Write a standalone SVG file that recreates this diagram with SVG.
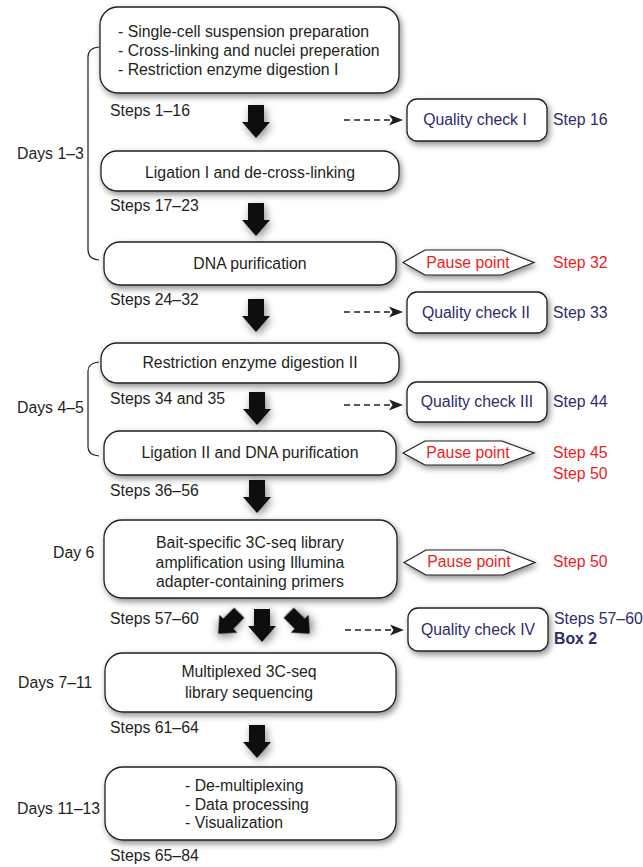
<svg xmlns="http://www.w3.org/2000/svg" xmlns:xlink="http://www.w3.org/1999/xlink" width="643" height="867" viewBox="0 0 643 867">
<style>
text{font-family:"Liberation Sans",Arial,Helvetica,sans-serif;font-size:15.8px;fill:#231f20}
.c{text-anchor:middle}
.navy{fill:#2e2b6b}
.red{fill:#ed1c24}
.bold{font-weight:bold}
.box{fill:#fff;stroke:#231f20;stroke-width:1.3;filter:url(#sh)}
.hex{fill:#fff;stroke:#231f20;stroke-width:1.2;filter:url(#sh)}
.brk{fill:none;stroke:#231f20;stroke-width:1.2}
.dash{stroke:#231f20;stroke-width:1.4;stroke-dasharray:6 4;fill:none}
.ah{fill:#231f20}
.blk{fill:#111;filter:url(#ash)}
</style>
<defs>
<filter id="sh" x="-20%" y="-30%" width="140%" height="170%">
<feGaussianBlur in="SourceAlpha" stdDeviation="3"/>
<feOffset dx="2" dy="3" result="b"/>
<feComponentTransfer><feFuncA type="linear" slope="0.45"/></feComponentTransfer>
<feMerge><feMergeNode/><feMergeNode in="SourceGraphic"/></feMerge>
</filter>
<filter id="ash" x="-80%" y="-80%" width="260%" height="260%">
<feGaussianBlur in="SourceAlpha" stdDeviation="4.5"/>
<feOffset dx="2" dy="3" result="b"/>
<feComponentTransfer><feFuncA type="linear" slope="0.45"/></feComponentTransfer>
<feMerge><feMergeNode/><feMergeNode in="SourceGraphic"/></feMerge>
</filter>
<path id="arr" d="M-8,-16 h16 v17 h6 l-14,16 l-14,-16 h6 z"/>
</defs>

<g id="connectors">
<use xlink:href="#arr" href="#arr" class="blk" transform="translate(256,121)"/>
<use xlink:href="#arr" href="#arr" class="blk" transform="translate(256,219)"/>
<use xlink:href="#arr" href="#arr" class="blk" transform="translate(256,315)"/>
<use xlink:href="#arr" href="#arr" class="blk" transform="translate(257,408)"/>
<use xlink:href="#arr" href="#arr" class="blk" transform="translate(257,496)"/>
<use xlink:href="#arr" href="#arr" class="blk" transform="translate(229,623) rotate(45) scale(0.9)"/>
<use xlink:href="#arr" href="#arr" class="blk" transform="translate(262,625)"/>
<use xlink:href="#arr" href="#arr" class="blk" transform="translate(299,623) rotate(-45) scale(0.9)"/>
<use xlink:href="#arr" href="#arr" class="blk" transform="translate(257,741)"/>

<path class="dash" d="M344,120 H391"/>
<path class="ah" d="M403,120 L389,114.5 L392.5,120 L389,125.5 z"/>
<path class="dash" d="M344,312 H391"/>
<path class="ah" d="M403,312 L389,306.5 L392.5,312 L389,317.5 z"/>
<path class="dash" d="M344,405 H391"/>
<path class="ah" d="M403,405 L389,399.5 L392.5,405 L389,410.5 z"/>
<path class="dash" d="M345,630 H392"/>
<path class="ah" d="M404,630 L390,624.5 L393.5,630 L390,635.5 z"/>
</g>

<g id="brackets">
<path class="brk" d="M99,47 Q88,48 88,57 V250 Q88,259 99,260"/>
<text x="17" y="159">Days 1–3</text>
<path class="brk" d="M99,362 Q88,363 88,371 V447 Q88,455 99,456"/>
<text x="17" y="413">Days 4–5</text>
<text x="53" y="558">Day 6</text>
<text x="18" y="688">Days 7–11</text>
<text x="17" y="814">Days 11–13</text>
</g>

<g id="n1">
<rect class="box" x="100" y="7" width="299" height="86" rx="18"/>
<text x="118" y="37">- Single-cell suspension preparation</text>
<text x="118" y="56">- Cross-linking and nuclei preperation</text>
<text x="118" y="75">- Restriction enzyme digestion I</text>
<text x="110" y="116">Steps 1–16</text>
</g>
<g id="n2">
<rect class="box" x="101" y="151" width="298" height="40" rx="16"/>
<text class="c" x="250" y="178">Ligation I and de-cross-linking</text>
<text x="110" y="211">Steps 17–23</text>
</g>
<g id="n3">
<rect class="box" x="104" y="242" width="292" height="43" rx="16"/>
<text class="c" x="250" y="269">DNA purification</text>
<text x="110" y="305">Steps 24–32</text>
</g>
<g id="n4">
<rect class="box" x="101" y="343" width="298" height="40" rx="16"/>
<text class="c" x="250" y="368">Restriction enzyme digestion II</text>
<text x="110" y="404">Steps 34 and 35</text>
</g>
<g id="n5">
<rect class="box" x="104" y="431" width="292" height="44" rx="16"/>
<text class="c" x="250" y="458">Ligation II and DNA purification</text>
<text x="110" y="496">Steps 36–56</text>
</g>
<g id="n6">
<rect class="box" x="104" y="520" width="293" height="78" rx="18"/>
<text class="c" x="250" y="548">Bait-specific 3C-seq library</text>
<text class="c" x="250" y="568">amplification using Illumina</text>
<text class="c" x="250" y="587">adapter-containing primers</text>
<text x="110" y="624">Steps 57–60</text>
</g>
<g id="n7">
<rect class="box" x="105" y="653" width="291" height="59" rx="18"/>
<text class="c" x="249" y="677">Multiplexed 3C-seq</text>
<text class="c" x="249" y="698">library sequencing</text>
<text x="110" y="733">Steps 61–64</text>
</g>
<g id="n8">
<rect class="box" x="105" y="767" width="291" height="73" rx="18"/>
<text x="185" y="791">- De-multiplexing</text>
<text x="185" y="810">- Data processing</text>
<text x="185" y="828">- Visualization</text>
<text x="110" y="861">Steps 65–84</text>
</g>

<g id="qc1">
<rect class="box" x="407" y="99" width="140" height="42" rx="10"/>
<text class="c navy" x="475" y="125">Quality check I</text>
<text class="navy" x="553" y="125">Step 16</text>
</g>
<g id="qc2">
<rect class="box" x="407" y="292" width="140" height="41" rx="10"/>
<text class="c navy" x="476" y="318">Quality check II</text>
<text class="navy" x="553" y="318">Step 33</text>
</g>
<g id="qc3">
<rect class="box" x="407" y="382" width="140" height="40" rx="10"/>
<text class="c navy" x="477" y="407">Quality check III</text>
<text class="navy" x="553" y="407">Step 44</text>
</g>
<g id="qc4">
<rect class="box" x="408" y="608" width="140" height="43" rx="10"/>
<text class="c navy" x="478" y="635">Quality check IV</text>
<text class="navy" x="554" y="624">Steps 57–60</text>
<text class="navy bold" x="554" y="644">Box 2</text>
</g>

<g id="pp1">
<path class="hex" d="M403,262.5 L425,250 H502 L534,262.5 L502,275 H425 z"/>
<text class="c red" x="468" y="268">Pause point</text>
<text class="red" x="553" y="268">Step 32</text>
</g>
<g id="pp2">
<path class="hex" d="M403,453 L425,441 H502 L534,453 L502,465 H425 z"/>
<text class="c red" x="468" y="458">Pause point</text>
<text class="red" x="553" y="458">Step 45</text>
<text class="red" x="553" y="479">Step 50</text>
</g>
<g id="pp3">
<path class="hex" d="M404,562.5 L426,550 H503 L535,562.5 L503,575 H426 z"/>
<text class="c red" x="469" y="567">Pause point</text>
<text class="red" x="553" y="567">Step 50</text>
</g>
</svg>
